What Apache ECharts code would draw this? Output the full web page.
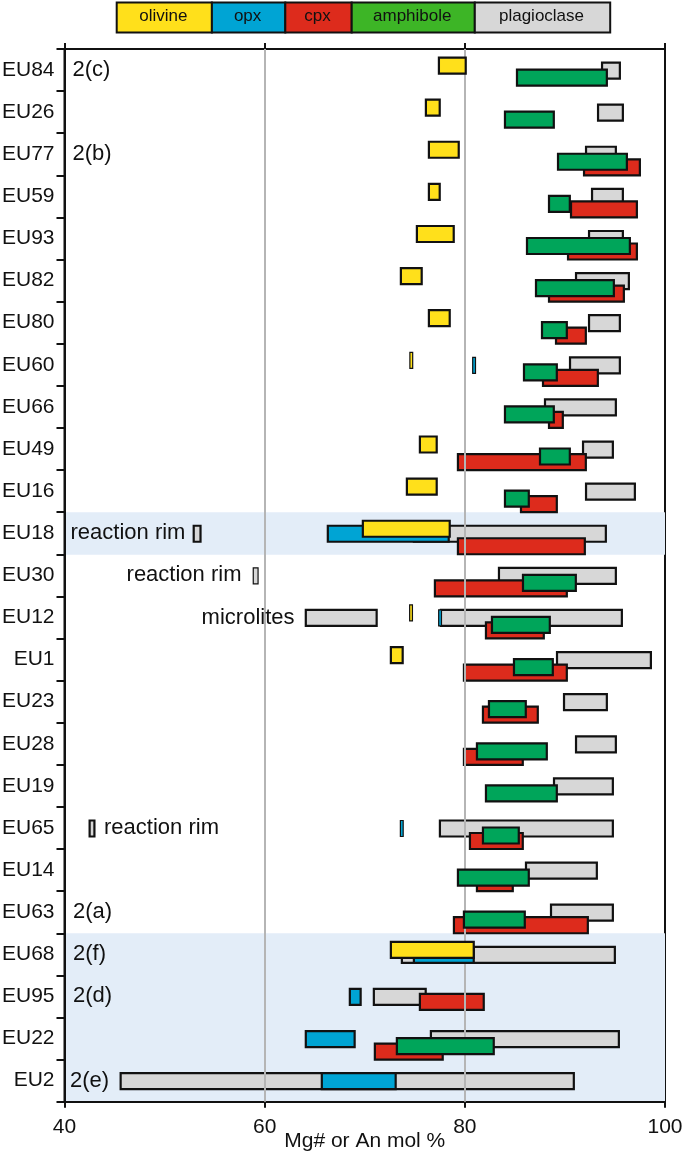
<!DOCTYPE html>
<html>
<head>
<meta charset="utf-8">
<script src="https://cdn.jsdelivr.net/npm/echarts@6/dist/echarts.min.js"></script>
<style>
html,body{margin:0;padding:0;background:#fff;}
#chart{width:685px;height:1157px;}
</style>
</head>
<body>
<div id="chart"></div>
<script>
// ---------- DATA ----------
const samples = ['EU84','EU26','EU77','EU59','EU93','EU82','EU80','EU60','EU66','EU49','EU16','EU18','EU30','EU12','EU1','EU23','EU28','EU19','EU65','EU14','EU63','EU68','EU95','EU22','EU2'];
const xTicks = [40, 60, 80, 100];
const minerals = ['olivine','opx','cpx','amphibole','plagioclase'];

const olivine = [
  ['EU84',77.3,80.2],['EU26',76.0,77.6],['EU77',76.3,79.5],['EU59',76.3,77.6],['EU93',75.1,79.0],
  ['EU82',73.5,75.8],['EU80',76.3,78.6],['EU60',74.5,74.8],['EU49',75.4,77.3],['EU16',74.1,77.3],
  ['EU18',69.7,78.6],['EU12',74.45,74.8],['EU1',72.5,73.9],['EU68',72.5,81.0]
];
const opx = [
  ['EU60',80.75,81.1],['EU18',66.2,78.5],['EU12',77.35,77.7],['EU65',73.5,73.9],
  ['EU68',74.8,81.0],['EU95',68.4,69.7],['EU22',64.0,69.1],['EU2',65.6,73.2]
];
const cpx = [
  ['EU77',91.8,97.6],['EU59',90.5,97.3],['EU93',90.2,97.3],['EU82',88.3,96.0],['EU80',89.0,92.2],
  ['EU60',87.7,93.4],['EU66',88.3,89.9],['EU49',79.2,92.2],['EU16',85.5,89.3],['EU18',79.2,92.1],
  ['EU30',76.9,90.3],['EU12',82.0,88.0],['EU1',79.8,90.3],['EU23',81.7,87.4],['EU28',79.8,85.9],
  ['EU65',80.4,85.9],['EU14',81.1,84.9],['EU63',78.8,92.4],['EU95',75.4,82.0],['EU22',70.9,77.9]
];
const amphibole = [
  ['EU84',85.1,94.3],['EU26',83.9,89.0],['EU77',89.2,96.3],['EU59',88.3,90.6],['EU93',86.1,96.6],
  ['EU82',87.0,95.0],['EU80',87.6,90.3],['EU60',85.8,89.3],['EU66',83.9,89.0],['EU49',87.4,90.6],
  ['EU16',83.9,86.5],['EU30',85.7,91.2],['EU12',82.6,88.6],['EU1',84.8,88.9],['EU23',82.3,86.2],
  ['EU28',81.1,88.3],['EU19',82.0,89.3],['EU65',81.7,85.5],['EU14',79.2,86.5],['EU63',79.8,86.1],
  ['EU22',73.1,83.0]
];
const plagioclase = [
  ['EU84',93.6,95.6],['EU26',93.2,95.9],['EU77',92.0,95.2],['EU59',92.6,95.9],['EU93',92.3,95.9],
  ['EU82',91.0,96.5],['EU80',92.3,95.6],['EU60',90.4,95.6],['EU66',87.9,95.2],['EU49',91.7,94.9],
  ['EU16',92.0,97.1],['EU18',52.8,53.7],['EU18',74.8,94.2],['EU30',58.8,59.4],['EU30',83.3,95.2],
  ['EU12',64.0,71.3],['EU12',77.5,95.8],['EU1',89.1,98.7],['EU23',89.8,94.3],['EU28',91.0,95.2],
  ['EU19',88.8,94.9],['EU65',42.4,43.1],['EU65',77.4,94.9],['EU14',86.0,93.3],['EU63',88.5,94.9],
  ['EU68',73.6,95.1],['EU95',70.8,76.2],['EU22',76.5,95.5],['EU2',45.5,91.0]
];
// annotations: [sample, text, x value where text starts]
const annotations = [
  ['EU84','2(c)',40.8],['EU77','2(b)',40.8],['EU18','reaction rim',40.6],['EU30','reaction rim',46.2],
  ['EU12','microlites',53.7],['EU65','reaction rim',43.95],['EU63','2(a)',40.85],['EU68','2(f)',40.85],
  ['EU95','2(d)',40.85],['EU2','2(e)',40.55]
];
const shadedSamples = ['EU18','EU68','EU95','EU22','EU2'];
const gridValues = [60, 80];

// ---------- STYLE ----------
const FONT = 'Liberation Sans, Arial, Helvetica, sans-serif';
const INK = '#111111';
const barColors = {olivine:'#FFE01B', opx:'#00A4D4', cpx:'#DD2B1C', amphibole:'#00A55A', plagioclase:'#D7D7D7'};
const legendColors = {olivine:'#FFE01B', opx:'#00A4D4', cpx:'#DD2B1C', amphibole:'#3DB526', plagioclase:'#D7D7D7'};
const legendEdges = [115.7, 210.9, 284.3, 350.7, 473.8, 609.2];
const laneOffset = {olivine:-0.107, opx:0.012, cpx:0.309, amphibole:0.178, plagioclase:0.012};
const laneOverride = {'EU95|cpx':0.13};
const zOrder = {plagioclase:3, cpx:4, amphibole:5, opx:6, olivine:7};
const BAR_FRAC = 0.38;

const chart = echarts.init(document.getElementById('chart'), null, {renderer:'canvas'});
const dataByMineral = {olivine, opx, cpx, amphibole, plagioclase};

function makeRangeSeries(name) {
  return {
    type: 'custom',
    name: name,
    z: zOrder[name],
    xAxisIndex: 0, yAxisIndex: 0,
    encode: {x:[1,2], y:0},
    data: dataByMineral[name],
    renderItem: function (params, api) {
      const ci = api.value(0);
      const p0 = api.coord([api.value(1), ci]);
      const p1 = api.coord([api.value(2), ci]);
      const band = api.size([0, 1])[1];
      const key = samples[ci] + '|' + name;
      const off = (laneOverride[key] !== undefined ? laneOverride[key] : laneOffset[name]) * band;
      const h = band * BAR_FRAC;
      const w = p1[0] - p0[0];
      const thin = w < 7;
      const lw = thin ? 1.2 : 2.2;
      const ow = Math.max(w, 4);
      const cx = (p0[0] + p1[0]) / 2;
      return {
        type: 'rect',
        shape: {x: cx - ow / 2 + lw / 2, y: p0[1] + off - h / 2, width: ow - lw, height: h},
        style: {fill: barColors[name], stroke: INK, lineWidth: lw}
      };
    }
  };
}

const series = [
  {
    type: 'custom', name: 'shade', z: 0, silent: true,
    encode: {y: 0},
    data: shadedSamples.map(s => [s]),
    renderItem: function (params, api) {
      const ci = api.value(0);
      const c = api.coord([xTicks[0], ci]);
      const band = api.size([0, 1])[1];
      return {
        type: 'rect',
        shape: {x: params.coordSys.x, y: c[1] - band / 2, width: params.coordSys.width, height: band + 0.5},
        style: {fill: '#E3EDF8'}
      };
    }
  },
  {
    type: 'line', data: [], z: 1, silent: true,
    markLine: {
      silent: true, symbol: 'none', label: {show: false},
      lineStyle: {color: '#B5B5B5', width: 2, type: 'solid'},
      data: gridValues.map(v => ({xAxis: v}))
    }
  }
];
minerals.forEach(m => series.push(makeRangeSeries(m)));
series.push({
  type: 'custom',
  name: 'annotations',
  z: 8,
  encode: {x: 1, y: 0},
  data: annotations.map(a => [a[0], a[2]]),
  renderItem: function (params, api) {
    const p = api.coord([api.value(1), api.value(0)]);
    return {
      type: 'text',
      x: p[0], y: p[1],
      style: {text: annotations[params.dataIndex][1], fill: INK, font: '22px ' + FONT, align: 'left', verticalAlign: 'middle'}
    };
  }
});

const legendGraphics = [];
minerals.forEach((m, i) => {
  const x0 = legendEdges[i], x1 = legendEdges[i + 1];
  legendGraphics.push({
    type: 'rect', left: x0, top: 1.5,
    shape: {x: 0, y: 0, width: x1 - x0, height: 30},
    style: {fill: legendColors[m], stroke: INK, lineWidth: 2}
  });
  legendGraphics.push({
    type: 'text', x: (x0 + x1) / 2, y: 16.5,
    style: {text: m, fill: INK, font: '17px ' + FONT, align: 'center', verticalAlign: 'middle'}
  });
});

const option = {
  animation: false,
  backgroundColor: '#ffffff',
  textStyle: {fontFamily: FONT},
  grid: {left: 64.5, right: 20, top: 49, bottom: 55.3, show: true, borderColor: INK, borderWidth: 2,
         backgroundColor: 'transparent', containLabel: false, outerBoundsMode: 'none'},
  xAxis: [
    {
      type: 'value', position: 'bottom', min: xTicks[0], max: xTicks[xTicks.length - 1], interval: 20,
      name: 'Mg# or An mol %', nameLocation: 'middle', nameGap: 29, nameMoveOverlap: false,
      nameTextStyle: {fontSize: 21, color: INK, fontFamily: FONT},
      axisLine: {show: true, lineStyle: {color: INK, width: 2}},
      axisTick: {show: true, length: 6, lineStyle: {color: INK, width: 2}},
      axisLabel: {fontSize: 21, color: INK, margin: 15, fontFamily: FONT},
      splitLine: {show: false}
    },
    {
      type: 'value', position: 'top', min: xTicks[0], max: xTicks[xTicks.length - 1], interval: 20,
      axisLine: {show: true, lineStyle: {color: INK, width: 2}},
      axisTick: {show: true, length: 6, lineStyle: {color: INK, width: 2}},
      axisLabel: {show: false},
      splitLine: {show: false}
    }
  ],
  yAxis: {
    type: 'category', data: samples, inverse: true,
    axisLine: {show: true, lineStyle: {color: INK, width: 2}},
    axisTick: {show: true, length: 8, lineStyle: {color: INK, width: 2}},
    axisLabel: {fontSize: 21, color: INK, margin: 10, fontFamily: FONT},
    splitLine: {show: false}
  },
  graphic: legendGraphics,
  series: series
};
chart.setOption(option);
</script>
</body>
</html>
